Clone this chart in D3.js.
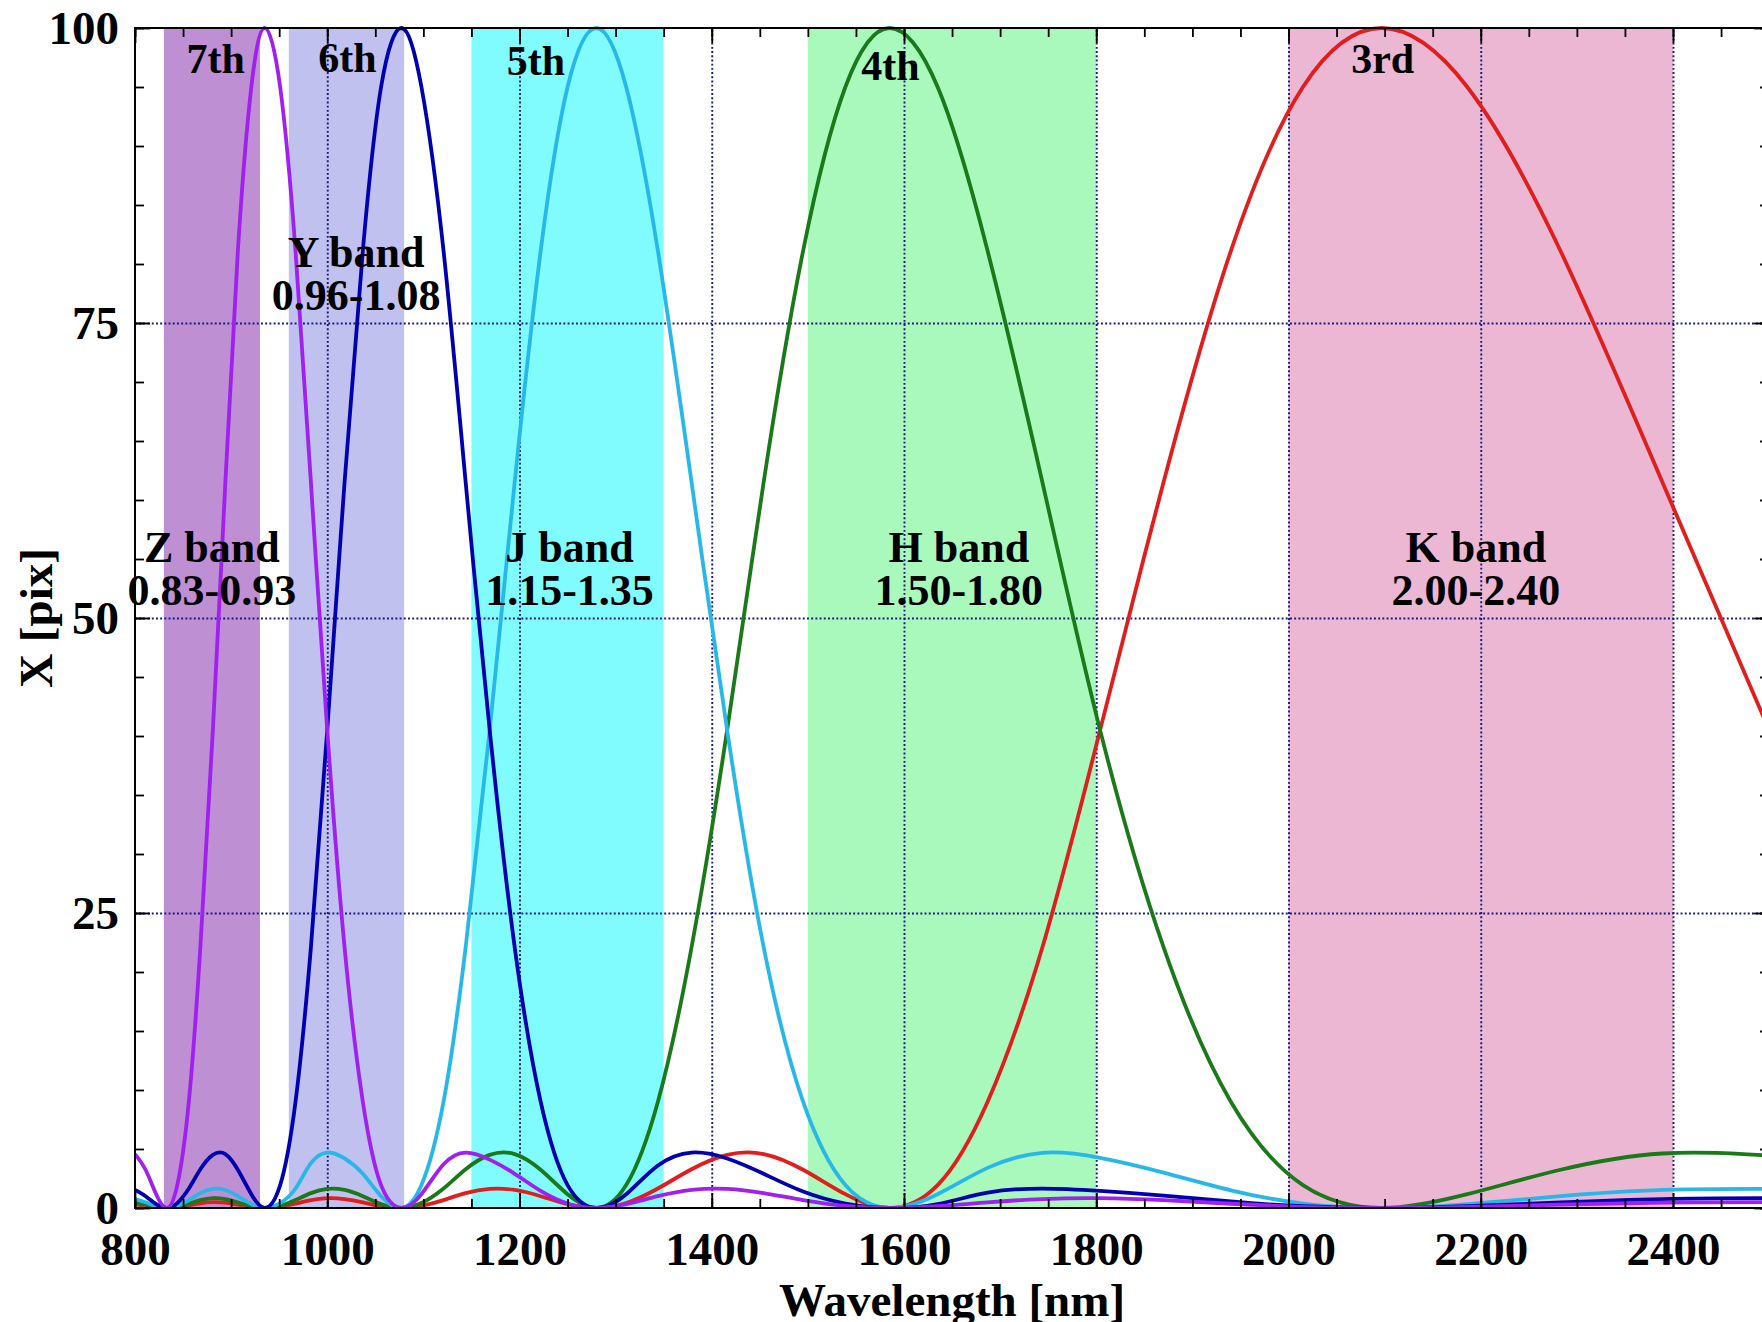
<!DOCTYPE html>
<html>
<head>
  <meta charset="utf-8">
  <title>Grating orders and NIR bands</title>
  <script src="https://d3js.org/d3.v7.min.js"></script>
  <style>
    body { margin: 0; background: #fff; }
    text { font-family: "Liberation Serif", "Times New Roman", serif; font-weight: bold; fill: #000; }
    .tick-label text { font-size: 47px; }
    .axis-title { font-size: 47px; }
    .band-label { font-size: 44px; }
    .order-label { font-size: 42px; }
  </style>
</head>
<body>
<script>
// wavelength grid [nm] the curves were read at
var wavelength = [800, 811, 822, 833, 844, 856, 868, 881, 894, 907, 921, 935,
  951, 967, 983, 1000, 1018, 1037, 1056, 1077, 1098, 1121, 1144, 1169,
  1195, 1222, 1250, 1280, 1311, 1344, 1379, 1416, 1454, 1495, 1539, 1585,
  1635, 1687, 1744, 1804, 1870, 1940, 2015, 2097, 2186, 2283, 2389, 2500];

// X [pix] for each diffraction order, same points as wavelength
var order3 = [0.30, 0.18, 0.06, 0, 0.06, 0.23, 0.40, 0.50, 0.45, 0.28, 0.09, 0,
  0.10, 0.36, 0.66, 0.83, 0.76, 0.48, 0.15, 0, 0.18, 0.67, 1.26, 1.62,
  1.53, 1.00, 0.33, 0, 0.42, 1.65, 3.28, 4.50, 4.57, 3.24, 1.17, 0,
  1.94, 9.01, 22.1, 40.5, 61.5, 81.1, 95.0, 100, 95.0, 81.1, 61.5, 40.5];
var order4 = [0.45, 0.28, 0.09, 0, 0.10, 0.36, 0.66, 0.83, 0.76, 0.48, 0.15, 0,
  0.18, 0.67, 1.26, 1.62, 1.53, 1.00, 0.33, 0, 0.42, 1.65, 3.28, 4.50,
  4.57, 3.24, 1.17, 0, 1.94, 9.01, 22.1, 40.5, 61.5, 81.1, 95.0, 100,
  95.0, 81.1, 61.5, 40.5, 22.1, 9.01, 1.94, 0, 1.17, 3.24, 4.62, 4.45];
var order5 = [0.76, 0.48, 0.15, 0, 0.18, 0.67, 1.26, 1.62, 1.53, 1.00, 0.33, 0,
  0.42, 1.65, 3.80, 4.70, 4.20, 2.90, 1.00, 0, 1.94, 9.01, 22.1, 40.5,
  61.5, 81.1, 95.0, 100, 95.0, 81.1, 61.5, 40.5, 22.1, 9.01, 1.94, 0,
  1.17, 3.40, 4.68, 4.25, 3.00, 1.50, 0.38, 0, 0.33, 1.00, 1.53, 1.62];
var order6 = [1.53, 1.00, 0.33, 0, 0.42, 1.65, 3.28, 4.50, 4.57, 3.24, 1.17, 0,
  1.94, 9.01, 22.1, 40.5, 61.5, 81.1, 95.0, 100, 95.0, 81.1, 61.5, 40.5,
  22.1, 9.01, 1.94, 0, 1.17, 3.60, 4.70, 4.20, 2.90, 1.40, 0.38, 0,
  0.33, 1.30, 1.65, 1.45, 1.05, 0.55, 0.15, 0, 0.15, 0.48, 0.76, 0.83];
var order7 = [4.57, 3.24, 1.17, 0, 1.94, 9.01, 22.1, 40.5, 61.5, 81.1, 95.0, 100,
  95.0, 81.1, 61.5, 40.5, 22.1, 9.01, 1.94, 0, 1.17, 3.70, 4.70, 4.10,
  2.90, 1.45, 0.38, 0, 0.33, 1.00, 1.53, 1.62, 1.26, 0.67, 0.18, 0,
  0.15, 0.48, 0.76, 0.83, 0.66, 0.36, 0.10, 0, 0.09, 0.28, 0.45, 0.50];

// atmospheric bands [nm]
var bandNames = ["Z band", "Y band", "J band", "H band", "K band"];
var bandRanges = ["0.83-0.93", "0.96-1.08", "1.15-1.35", "1.50-1.80", "2.00-2.40"];
var bandStart = [830, 960, 1150, 1500, 2000];
var bandEnd = [930, 1080, 1350, 1800, 2400];
var bandLabelAt = [880, 1030, 1252, 1657, 2195];

// order names and where they sit along the top [nm]
var orderNames = ["3rd", "4th", "5th", "6th", "7th"];
var orderLabelAt = [2098, 1586, 1217, 1021, 884];

var xTicks = [800, 1000, 1200, 1400, 1600, 1800, 2000, 2200, 2400];
var yTicks = [0, 25, 50, 75, 100];

// styling
var curveColors = ["#e01e1e", "#1a7a1a", "#28b8e8", "#0000b0", "#a020f0"];
var bandColors = ["#bf8fd3", "#c1c1f0", "#80fcff", "#a9f8bc", "#ecb7d3"];
var orderLabelDrop = [45, 52, 47, 44, 45];

var width = 1762, height = 1322;
var plotLeft = 135, plotTop = 28, plotBottom = 1208;

var x = d3.scaleLinear().domain([800, 2500]).range([plotLeft, plotLeft + 1700 * 0.96125]);
var y = d3.scaleLinear().domain([0, 100]).range([plotBottom, plotTop]);
var plotRight = x(2500);

var svg = d3.select('body').append('svg')
  .attr('width', width).attr('height', height)
  .style('display', 'block');

svg.append('rect').attr('width', width).attr('height', height).attr('fill', '#fff');

svg.append('clipPath').attr('id', 'plot-clip')
  .append('rect')
  .attr('x', plotLeft).attr('y', plotTop - 8)
  .attr('width', plotRight - plotLeft).attr('height', plotBottom - plotTop + 8);

// band shading
svg.append('g').selectAll('rect')
  .data(bandNames)
  .enter().append('rect')
  .attr('x', function (d, i) { return x(bandStart[i]); })
  .attr('width', function (d, i) { return x(bandEnd[i]) - x(bandStart[i]); })
  .attr('y', plotTop)
  .attr('height', plotBottom - plotTop)
  .attr('fill', function (d, i) { return bandColors[i]; });

// dotted grid
function dotted(g) {
  g.select('.domain').remove();
  g.selectAll('.tick line')
    .attr('stroke', '#18187c')
    .attr('stroke-width', 1.9)
    .attr('stroke-dasharray', '1.9,2.3');
}
svg.append('g')
  .attr('transform', 'translate(0,' + plotBottom + ')')
  .call(d3.axisBottom(x).tickValues(xTicks.slice(1)).tickSize(-(plotBottom - plotTop)).tickFormat(''))
  .call(dotted);
svg.append('g')
  .attr('transform', 'translate(' + plotLeft + ',0)')
  .call(d3.axisLeft(y).tickValues([25, 50, 75]).tickSize(-(plotRight - plotLeft)).tickFormat(''))
  .call(dotted);

// curves
var series = [order3, order4, order5, order6, order7];
var line = d3.line()
  .x(function (d, i) { return x(wavelength[i]); })
  .y(function (d) { return y(d); })
  .curve(d3.curveNatural);

svg.append('g').attr('clip-path', 'url(#plot-clip)')
  .selectAll('path')
  .data(series)
  .enter().append('path')
  .attr('d', line)
  .attr('fill', 'none')
  .attr('stroke', function (d, i) { return curveColors[i]; })
  .attr('stroke-width', 3.8)
  .attr('stroke-linejoin', 'round');

// frame and inward ticks
function ticksOnly(g) {
  g.select('.domain').remove();
  g.selectAll('.tick line').attr('stroke', '#000').attr('stroke-width', 1.8);
}
var minorX = d3.range(800, 2501, 50);
var minorY = d3.range(0, 101, 5);

var xBottom = svg.append('g').attr('class', 'tick-label')
  .attr('transform', 'translate(0,' + plotBottom + ')');
xBottom.call(d3.axisBottom(x).tickValues(minorX).tickSize(-9).tickFormat('')).call(ticksOnly);
xBottom.append('g')
  .call(d3.axisBottom(x).tickValues(xTicks).tickSize(-15).tickPadding(24).tickFormat(d3.format('d')))
  .call(ticksOnly);

var xTop = svg.append('g').attr('transform', 'translate(0,' + plotTop + ')');
xTop.call(d3.axisTop(x).tickValues(minorX).tickSize(-9).tickFormat('')).call(ticksOnly);
xTop.append('g').call(d3.axisTop(x).tickValues(xTicks).tickSize(-15).tickFormat('')).call(ticksOnly);

var yLeft = svg.append('g').attr('class', 'tick-label')
  .attr('transform', 'translate(' + plotLeft + ',0)');
yLeft.call(d3.axisLeft(y).tickValues(minorY).tickSize(-9).tickFormat('')).call(ticksOnly);
yLeft.append('g')
  .call(d3.axisLeft(y).tickValues(yTicks).tickSize(-15).tickPadding(16).tickFormat(d3.format('d')))
  .call(ticksOnly);

var yRight = svg.append('g').attr('transform', 'translate(' + plotRight + ',0)');
yRight.call(d3.axisRight(y).tickValues(minorY).tickSize(-9).tickFormat('')).call(ticksOnly);
yRight.append('g').call(d3.axisRight(y).tickValues(yTicks).tickSize(-15).tickFormat('')).call(ticksOnly);

svg.append('rect')
  .attr('x', plotLeft).attr('y', plotTop)
  .attr('width', plotRight - plotLeft).attr('height', plotBottom - plotTop)
  .attr('fill', 'none').attr('stroke', '#000').attr('stroke-width', 2);

// axis titles
svg.append('text').attr('class', 'axis-title')
  .attr('x', (plotLeft + plotRight) / 2).attr('y', 1316)
  .attr('text-anchor', 'middle')
  .text('Wavelength [nm]');

svg.append('text').attr('class', 'axis-title')
  .attr('transform', 'translate(52,' + y(50) + ') rotate(-90)')
  .attr('text-anchor', 'middle')
  .text('X [pix]');

// band labels, two lines each
var bandRow = [50, 75, 50, 50, 50];
var bandText = svg.append('g').attr('class', 'band-label')
  .selectAll('text')
  .data(bandNames)
  .enter().append('text')
  .attr('text-anchor', 'middle');
bandText.append('tspan')
  .attr('x', function (d, i) { return x(bandLabelAt[i]); })
  .attr('y', function (d, i) { return y(bandRow[i]) - 56; })
  .text(function (d) { return d; });
bandText.append('tspan')
  .attr('x', function (d, i) { return x(bandLabelAt[i]); })
  .attr('y', function (d, i) { return y(bandRow[i]) - 13; })
  .text(function (d, i) { return bandRanges[i]; });

// order labels along the top
svg.append('g').attr('class', 'order-label')
  .selectAll('text')
  .data(orderNames)
  .enter().append('text')
  .attr('text-anchor', 'middle')
  .attr('x', function (d, i) { return x(orderLabelAt[i]); })
  .attr('y', function (d, i) { return y(100) + orderLabelDrop[i]; })
  .text(function (d) { return d; });
</script>
</body>
</html>
